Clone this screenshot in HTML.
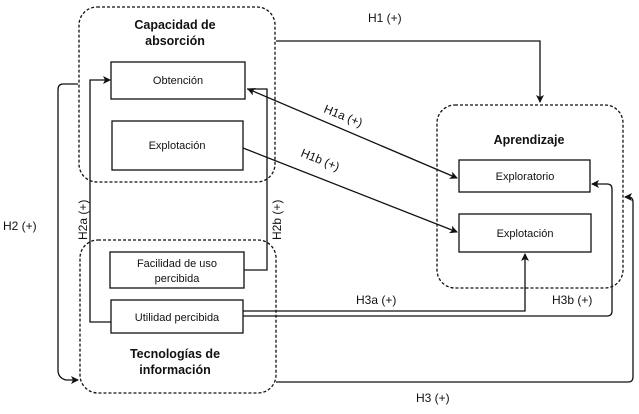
<!DOCTYPE html>
<html><head><style>
body{margin:0;background:#fff;}
svg text{font-family:"Liberation Sans",sans-serif;fill:#111;}
</style></head><body>
<svg width="639" height="409" viewBox="0 0 639 409" xmlns="http://www.w3.org/2000/svg">
<defs><marker id="a" markerWidth="8" markerHeight="8" refX="7" refY="4" orient="auto-start-reverse" markerUnits="userSpaceOnUse"><path d="M0,0 L8,4 L0,8 L2,4 Z" fill="#111"/></marker></defs>
<g fill="none" stroke="#111" stroke-width="1.3" stroke-dasharray="3,2">
<rect x="79" y="7" width="196" height="175" rx="18"/>
<rect x="80" y="240" width="196" height="153" rx="18"/>
<rect x="437" y="105" width="186" height="183" rx="18"/>
</g>
<g fill="#fff" stroke="#111" stroke-width="1.3">
<rect x="111" y="62" width="134" height="37"/>
<rect x="112" y="121" width="131" height="49"/>
<rect x="110" y="252" width="134" height="36"/>
<rect x="111" y="300" width="132" height="33"/>
<rect x="459" y="160" width="131" height="32"/>
<rect x="459" y="214" width="132" height="38"/>
</g>
<g fill="none" stroke="#111" stroke-width="1.3">
<path d="M276,41 H540 V102" marker-end="url(#a)"/>
<path d="M457,178 L248,89" marker-end="url(#a)" marker-start="url(#a)"/>
<path d="M243,148 L457,232" marker-end="url(#a)"/>
<path d="M111,322 H90 V80 H110" marker-end="url(#a)"/>
<path d="M244,270 H267 V89 H247"/>
<path d="M78,84 H63 Q58,84 58,90 V370 Q58,378 66,380 L78,380" marker-end="url(#a)"/>
<path d="M243,311 H525 V254" marker-end="url(#a)"/>
<path d="M243,316 H607 Q612,316 612,311 V189 Q612,184 607,184 H592" marker-end="url(#a)"/>
<path d="M276,382 H628 Q633,382 633,377 V202 Q633,197 628,197 H625" marker-end="url(#a)"/>
</g>
<g font-size="12.5" font-weight="bold" text-anchor="middle">
<text x="175" y="29">Capacidad de</text><text x="175" y="45">absorción</text>
<text x="175" y="358">Tecnologías de</text><text x="175" y="374">información</text>
<text x="529" y="144">Aprendizaje</text>
</g>
<g font-size="11" text-anchor="middle">
<text x="178" y="84">Obtención</text>
<text x="177" y="149">Explotación</text>
<text x="177" y="267">Facilidad de uso</text><text x="177" y="282">percibida</text>
<text x="177" y="321">Utilidad percibida</text>
<text x="525" y="180">Exploratorio</text>
<text x="525" y="237">Explotación</text>
</g>
<g font-size="12">
<text x="368" y="22">H1 (+)</text>
<text x="3" y="230">H2 (+)</text>
<text x="356" y="304">H3a (+)</text>
<text x="552" y="304">H3b (+)</text>
<text x="416" y="402">H3 (+)</text>
<text transform="translate(323,112) rotate(22)">H1a (+)</text>
<text transform="translate(300,156) rotate(22)">H1b (+)</text>
<text transform="translate(87,240) rotate(-90)">H2a (+)</text>
<text transform="translate(281,240) rotate(-90)">H2b (+)</text>
</g>
</svg>
</body></html>
